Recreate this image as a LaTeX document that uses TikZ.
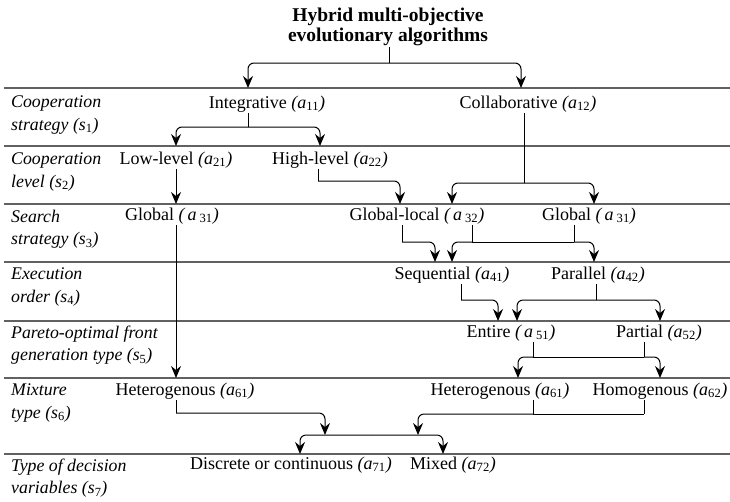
\documentclass[tikz,border=0pt]{standalone}
\usepackage{fontspec}
\setmainfont{Liberation Serif}
\usetikzlibrary{arrows.meta}
% alternative label with italic bracket and small upright index
\newcommand{\optsub}[2]{\textit{(#1}\textsubscript{\upshape #2}\textit{)}}
\newcommand{\optsubsp}[2]{\textit{(\,#1}\,\textsubscript{\upshape #2}\textit{)}}

\begin{document}
\begin{tikzpicture}[x=1pt,y=-1pt,
  rowrule/.style={draw=black!62, line width=1.4pt},
  link/.style={line width=1pt},
  arr/.style={link, rounded corners=6pt, -{Stealth[length=12pt,width=10pt,inset=4pt]}},
  item/.style={font=\fontsize{18}{21}\selectfont, inner sep=1pt, anchor=mid},
  crit/.style={font=\fontsize{17.8}{22.5}\selectfont\itshape, align=left, anchor=west, inner sep=0pt},
  heading/.style={font=\fontsize{19.5}{20.5}\selectfont\bfseries, align=center, inner sep=1pt}]
\useasboundingbox (0,0) rectangle (730,501);

% horizontal rules separating the levels
\coordinate (R1) at (0,88);
\coordinate (R2) at (0,146);
\coordinate (R3) at (0,204);
\coordinate (R4) at (0,262);
\coordinate (R5) at (0,321);
\coordinate (R6) at (0,378);
\coordinate (R7) at (0,454);
\foreach \r in {R1,R2,R3,R4,R5,R6,R7}
  \draw[rowrule] (\r) ++(4,0) -- ++(726,0);

% title
\node[heading] (T) at (388,27) {Hybrid multi-objective\\evolutionary algorithms};

% criteria column
\node[crit] (s1) at (11,115) {Cooperation\\strategy \optsub{s}{1}};
\node[crit] (s2) at (11,172) {Cooperation\\level \optsub{s}{2}};
\node[crit] (s3) at (11,229) {Search\\strategy \optsub{s}{3}};
\node[crit] (s4) at (11,287) {Execution\\order \optsub{s}{4}};
\node[crit] (s5) at (11,345) {Pareto-optimal front\\generation type \optsub{s}{5}};
\node[crit] (s6) at (11,403) {Mixture\\type \optsub{s}{6}};
\node[crit] (s7) at (11,478) {Type of decision\\variables \optsub{s}{7}};

% alternatives
\node[item] (I1) at (267,106) {Integrative \optsub{a}{11}};
\node[item] (C1) at (528,106) {Collaborative \optsub{a}{12}};
\node[item] (L2) at (176,162) {Low-level \optsub{a}{21}};
\node[item] (H2) at (330,162) {High-level \optsub{a}{22}};
\node[item] (G3L) at (172,218) {Global \optsubsp{a}{31}};
\node[item] (GL3) at (417,218) {Global-local \optsubsp{a}{32}};
\node[item] (G3R) at (589,218) {Global \optsubsp{a}{31}};
\node[item] (S4) at (452,277) {Sequential \optsub{a}{41}};
\node[item] (P4) at (598,277) {Parallel \optsub{a}{42}};
\node[item] (E5) at (511,335) {Entire \optsubsp{a}{51}};
\node[item] (PA5) at (659,335) {Partial \optsub{a}{52}};
\node[item] (HL6) at (185,393) {Heterogenous \optsub{a}{61}};
\node[item] (HR6) at (500,393) {Heterogenous \optsub{a}{61}};
\node[item] (HO6) at (660,393) {Homogenous \optsub{a}{62}};
\node[item] (D7) at (291,467) {Discrete or continuous \optsub{a}{71}};
\node[item] (M7) at (453,467) {Mixed \optsub{a}{72}};

% junction points
\coordinate (B0) at (389,63);
\coordinate (B1) at (248,127);
\coordinate (B2) at (524,183);
\coordinate (K2) at (318,181);
\coordinate (K3) at (402,242);
\coordinate (B3a) at (472,242);
\coordinate (B3b) at (574,242);
\coordinate (K4) at (461,300);
\coordinate (B4) at (596,300);
\coordinate (B5a) at (533,357);
\coordinate (B5b) at (644,357);
\coordinate (K6) at (176,413);
\coordinate (B6a) at (533,414);
\coordinate (B6b) at (644,414);
\coordinate (J7) at (371,435);
\coordinate (M7a) at (325,435);
\coordinate (M7b) at (418,435);

% title -> level 1
\draw[link] (T.south -| B0) -- (B0);
\draw[arr] (B0) -| ([xshift=-19pt]I1.north |- R1);
\draw[arr] (B0) -| ([xshift=-7pt]C1.north |- R1);

% level 1 -> level 2 / 3
\draw[link] ([xshift=-19pt]I1.south) -- (B1);
\draw[arr] (B1) -| (L2.north |- R2);
\draw[arr] (B1) -| ([xshift=-10pt]H2.north |- R2);
\draw[link] ([xshift=-4pt]C1.south) -- (B2);
\draw[arr] (B2) -| ([xshift=35pt]GL3.north |- R3);
\draw[arr] (B2) -| ([xshift=5pt]G3R.north |- R3);

% level 2 -> level 3
\draw[arr] (L2.south) -- (L2.south |- R3);
\draw[link] ([xshift=-12pt]H2.south) -- (K2);
\draw[arr] (K2) -| ([xshift=-17pt]GL3.north |- R3);

% level 3 -> level 4 / 6
\draw[arr] ([xshift=4pt]G3L.south) -- ([xshift=4pt]G3L.south |- R6);
\draw[link] ([xshift=-15pt]GL3.south) -- (K3);
\draw[arr] (K3) -| ([xshift=-17pt]S4.north |- R4);
\draw[link] ([xshift=55pt]GL3.south) -- (B3a);
\draw[link] ([xshift=-15pt]G3R.south) -- (B3b);
\draw[link] (B3a) -- (B3b);
\draw[arr] (B3a) -| (S4.north |- R4);
\draw[arr] (B3b) -| ([xshift=-4pt]P4.north |- R4);

% level 4 -> level 5
\draw[link] ([xshift=9pt]S4.south) -- (K4);
\draw[arr] (K4) -| ([xshift=-13pt]E5.north |- R5);
\draw[link] ([xshift=-2pt]P4.south) -- (B4);
\draw[arr] (B4) -| ([xshift=6pt]E5.north |- R5);
\draw[arr] (B4) -| ([xshift=1pt]PA5.north |- R5);

% level 5 -> level 6
\draw[link] ([xshift=22pt]E5.south) -- (B5a);
\draw[link] ([xshift=-15pt]PA5.south) -- (B5b);
\draw[link] (B5a) -- (B5b);
\draw[arr] (B5a) -| ([xshift=18pt]HR6.north |- R6);
\draw[arr] (B5b) -| (HO6.north |- R6);

% level 6 -> level 7
\draw[link] ([xshift=-9pt]HL6.south) -- (K6);
\draw[arr] (K6) -| (M7a);
\draw[link] ([xshift=33pt]HR6.south) -- (B6a);
\draw[link] ([xshift=-16pt]HO6.south) -- (B6b);
\draw[link] (B6a) -- (B6b);
\draw[arr] (B6a) -| (M7b);
\draw[arr] (J7) -| ([xshift=9pt]D7.north |- R7);
\draw[arr] (J7) -| ([xshift=-10pt]M7.north |- R7);
\end{tikzpicture}
\end{document}
